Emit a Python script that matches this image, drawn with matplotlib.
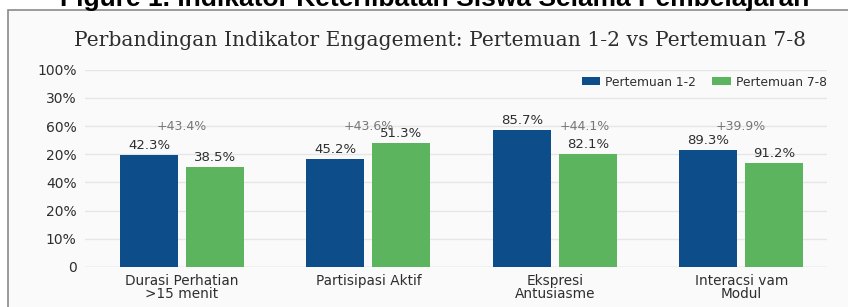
import matplotlib.pyplot as plt
import numpy as np
from matplotlib.patches import Rectangle

# data
kategori = ['Durasi Perhatian\n>15 menit', 'Partisipasi Aktif',
            'Ekspresi\nAntusiasme', 'Interacsi vam\nModul']
tinggi_awal = [3.97, 3.83, 4.86, 4.15]     # bar heights in grid steps
tinggi_akhir = [3.55, 4.39, 4.00, 3.68]
label_awal = ['42.3%', '45.2%', '85.7%', '89.3%']
label_akhir = ['38.5%', '51.3%', '82.1%', '91.2%']
kenaikan = ['+43.4%', '+43.6%', '+44.1%', '+39.9%']
geser_kenaikan = [0.0, 0.0, 0.16, 0.0]
ytick_label = ['0', '10%', '20%', '40%', '20%', '60%', '30%', '100%']

biru = '#0d4d8a'
hijau = '#5db45e'
teks = '#2e2e2e'
plt.rcParams['font.family'] = ['DejaVu Sans']

fig = plt.figure(figsize=(8.48, 3.07), dpi=100)
fig.patch.set_facecolor('white')

# card background
W, H = 848, 307
card = Rectangle((8 / W, -0.1), 1.2, 1.1 - 10 / H, transform=fig.transFigure,
                 facecolor='#fafafa', edgecolor='#8a8a8a', lw=1.2, zorder=-5)
fig.patches.append(card)

fig.text(435 / W, 1 - 6 / H, 'Figure 1. Indikator Keterlibatan Siswa Selama Pembelajaran',
         ha='center', va='baseline', fontsize=19, fontweight='bold',
         family='Liberation Sans', color='black')
fig.text(440 / W, 1 - 40 / H, 'Perbandingan Indikator Engagement: Pertemuan 1-2 vs Pertemuan 7-8',
         ha='center', va='center', fontsize=14.6, family='DejaVu Serif', color=teks)

ax = fig.add_axes([85 / W, 1 - 267 / H, (827 - 85) / W, (267 - 69.6) / H])
ax.set_facecolor('none')
ax.set_zorder(2)

x = np.arange(len(kategori))
w = 0.31
d = 0.177
ax.bar(x - d, tinggi_awal, w, color=biru, label='Pertemuan 1-2', zorder=3)
ax.bar(x + d, tinggi_akhir, w, color=hijau, label='Pertemuan 7-8', zorder=3)

for i in range(len(kategori)):
    ax.text(x[i] - d, tinggi_awal[i] + 0.12, label_awal[i], ha='center', va='bottom',
            fontsize=9.5, color=teks)
    ax.text(x[i] + d, tinggi_akhir[i] + 0.12, label_akhir[i], ha='center', va='bottom',
            fontsize=9.5, color=teks)
    ax.text(x[i] + geser_kenaikan[i], 5.0, kenaikan[i], ha='center', va='center',
            fontsize=9, color='#777777')

ax.set_xlim(-0.52, 3.46)
ax.set_ylim(0, 7)
ax.set_yticks(range(len(ytick_label)))
ax.set_yticklabels(ytick_label)
ax.set_xticks(x)
ax.set_xticklabels(kategori, linespacing=0.95)
ax.tick_params(axis='both', length=0, colors=teks)
ax.tick_params(axis='y', pad=6, labelsize=10)
ax.tick_params(axis='x', pad=5, labelsize=9.8)
ax.grid(axis='y', color='#e6e6e6', lw=1, zorder=0)
for s in ax.spines.values():
    s.set_visible(False)
ax.axhline(0, color='#d8d8d8', lw=1, zorder=2)

ax.legend(loc='center right', bbox_to_anchor=(1.0, 1 - 12.4 / 197.4), ncol=2, frameon=False,
          fontsize=8.8, handlelength=1.5, handleheight=0.65, columnspacing=1.3,
          handletextpad=0.45, labelcolor=teks, borderaxespad=0, borderpad=0)

fig.savefig('out.png', dpi=100)
